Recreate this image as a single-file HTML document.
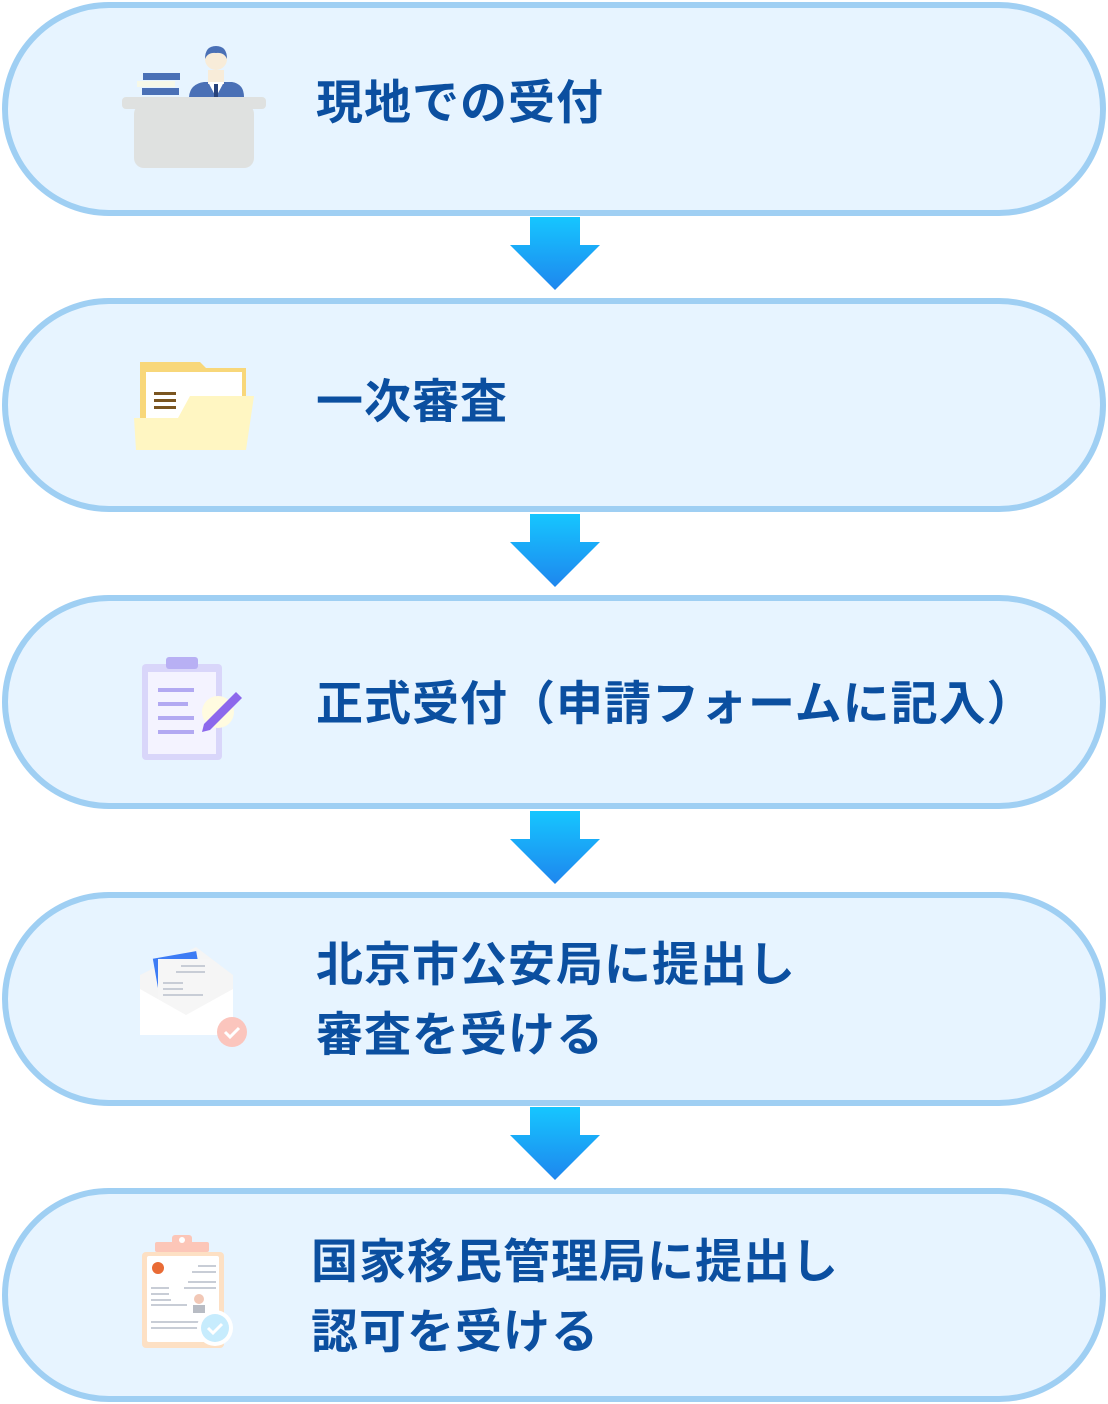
<!DOCTYPE html>
<html><head><meta charset="utf-8"><style>
body{margin:0;width:1108px;height:1404px;background:#fff;position:relative;overflow:hidden;font-family:"Liberation Sans","Noto Sans CJK JP",sans-serif}
.pill{position:absolute;left:2px;width:1104px;height:214px;box-sizing:border-box;border:6px solid #9fcff3;background:#e7f4ff;border-radius:107px}
.t{position:absolute;left:316px;font-size:47px;font-weight:bold;color:#0b4fa0;line-height:70px;white-space:nowrap;letter-spacing:1px}
.arr{position:absolute;left:510px;width:90px;height:73px}
svg{position:absolute}
</style></head><body>
<svg width="0" height="0"><defs><linearGradient id="g" x1="0" y1="0" x2="0" y2="1"><stop offset="0" stop-color="#16c6ff"/><stop offset="1" stop-color="#1e86ee"/></linearGradient></defs></svg>

<div class="pill" style="top:2px"></div>
<div class="pill" style="top:298px"></div>
<div class="pill" style="top:595px"></div>
<div class="pill" style="top:892px"></div>
<div class="pill" style="top:1188px"></div>

<svg class="arr" style="top:217px" viewBox="0 0 90 73"><path d="M20 0H70V28H90L45 73L0 28H20Z" fill="url(#g)"/></svg>
<svg class="arr" style="top:514px" viewBox="0 0 90 73"><path d="M20 0H70V28H90L45 73L0 28H20Z" fill="url(#g)"/></svg>
<svg class="arr" style="top:811px" viewBox="0 0 90 73"><path d="M20 0H70V28H90L45 73L0 28H20Z" fill="url(#g)"/></svg>
<svg class="arr" style="top:1107px" viewBox="0 0 90 73"><path d="M20 0H70V28H90L45 73L0 28H20Z" fill="url(#g)"/></svg>

<!-- icon1 desk -->
<svg style="left:120px;top:44px" width="150" height="126">
<rect x="2" y="53" width="144" height="12" rx="4" fill="#dfe1e0"/>
<rect x="14" y="60" width="120" height="64" rx="10" fill="#dfe1e0"/>
<rect x="23" y="29" width="37" height="7" fill="#4a70b6"/>
<rect x="17" y="37" width="38" height="6" fill="#f6f8e8"/>
<rect x="22" y="44" width="37" height="7" fill="#4a70b6"/>
<path d="M69 53 Q70 40 84 38 L112 38 Q124 40 124 53Z" fill="#4a70b6"/>
<rect x="88" y="26" width="16" height="14" fill="#f8ecd9"/>
<path d="M88 38h16l-8 15z" fill="#fff"/><rect x="94" y="40" width="4" height="13" fill="#27427a"/>
<circle cx="96" cy="15" r="11" fill="#f8ecd9"/>
<path d="M85 15 Q85 2 96 2 Q107 2 107 15 Q104 8 96 9 Q88 8 85 15Z" fill="#4a70b6"/>
</svg>
<div class="t" style="top:68px">現地での受付</div>

<!-- icon2 folder -->
<svg style="left:130px;top:358px" width="130" height="96">
<path d="M10 4h60l6 6h40v80H10z" fill="#f8d77a"/>
<rect x="16" y="14" width="96" height="60" fill="#fff"/>
<rect x="24" y="34" width="22" height="3" fill="#7a5520"/><rect x="24" y="41" width="22" height="3" fill="#7a5520"/><rect x="24" y="48" width="22" height="3" fill="#7a5520"/>
<path d="M4 60 L48 60 L60 38 L124 38 L116 92 L6 92Z" fill="#fff6c2"/>
</svg>
<div class="t" style="top:367px">一次審査</div>

<!-- icon3 clipboard -->
<svg style="left:138px;top:654px" width="110" height="110">
<rect x="4" y="10" width="80" height="96" rx="4" fill="#d9d6fa"/>
<rect x="10" y="18" width="68" height="82" fill="#f4f3ff"/>
<rect x="28" y="3" width="32" height="12" rx="3" fill="#b8b0f4"/>
<rect x="20" y="34" width="36" height="4" fill="#b2a9f2"/><rect x="20" y="48" width="30" height="4" fill="#b2a9f2"/><rect x="20" y="62" width="36" height="4" fill="#b2a9f2"/><rect x="20" y="76" width="36" height="4" fill="#b2a9f2"/>
<circle cx="80" cy="58" r="16" fill="#fffbe0"/>
<path d="M66 70 L98 38 L104 44 L72 76 L64 78Z" fill="#8c68ec"/>
</svg>
<div class="t" style="top:669px">正式受付（申請フォームに記入）</div>

<!-- icon4 envelope -->
<svg style="left:136px;top:945px" width="115" height="105">
<path d="M4 30 L60 2 L97 30 V90 H4Z" fill="#f5f5f5"/>
<rect x="20" y="10" width="44" height="50" transform="rotate(-10 40 30)" fill="#3d7cf5"/>
<rect x="22" y="14" width="52" height="60" fill="#f6f6f6"/>
<rect x="45" y="20" width="24" height="2" fill="#c8cdd6"/><rect x="40" y="26" width="29" height="2" fill="#c8cdd6"/><rect x="27" y="37" width="20" height="2" fill="#c8cdd6"/><rect x="27" y="43" width="20" height="2" fill="#c8cdd6"/><rect x="27" y="49" width="40" height="2" fill="#c8cdd6"/>
<path d="M4 44 L50 70 L97 44 V90 H4Z" fill="#fff"/>
<circle cx="96" cy="87" r="15" fill="#fbc5bd"/>
<path d="M89 87 l5 5 l9 -9" stroke="#fff" stroke-width="3" fill="none"/>
</svg>
<div class="t" style="top:930px;line-height:70px">北京市公安局に提出し<br>審査を受ける</div>

<!-- icon5 cert -->
<svg style="left:138px;top:1232px" width="100" height="125">
<rect x="4" y="20" width="82" height="96" rx="4" fill="#fde0c4"/>
<rect x="9" y="24" width="72" height="86" rx="2" fill="#fff"/>
<rect x="17" y="10" width="54" height="10" rx="2" fill="#fcc6b8"/>
<rect x="34" y="3" width="20" height="10" rx="3" fill="#fcc6b8"/><circle cx="44" cy="8" r="3" fill="#fff"/>
<circle cx="20" cy="36" r="6" fill="#e96b35"/>
<rect x="60" y="33" width="18" height="2" fill="#c8cdd6"/><rect x="54" y="39" width="24" height="2" fill="#c8cdd6"/><rect x="50" y="49" width="28" height="2" fill="#c8cdd6"/><rect x="46" y="55" width="32" height="2" fill="#c8cdd6"/>
<rect x="13" y="55" width="18" height="2" fill="#c8cdd6"/><rect x="13" y="61" width="18" height="2" fill="#c8cdd6"/><rect x="13" y="67" width="20" height="2" fill="#c8cdd6"/><rect x="13" y="72" width="36" height="2" fill="#c8cdd6"/>
<circle cx="61" cy="67" r="5" fill="#f2c8b6"/><rect x="55" y="73" width="12" height="8" fill="#b8bcc4"/>
<rect x="13" y="89" width="55" height="2" fill="#c8cdd6"/><rect x="13" y="95" width="50" height="2" fill="#c8cdd6"/>
<circle cx="77" cy="96" r="18" fill="#fff"/><circle cx="77" cy="96" r="14" fill="#c7ecfd"/>
<path d="M70 96 l5 5 l9 -9" stroke="#fff" stroke-width="3" fill="none"/>
</svg>
<div class="t" style="top:1227px;left:311px;line-height:70px">国家移民管理局に提出し<br>認可を受ける</div>
</body></html>
